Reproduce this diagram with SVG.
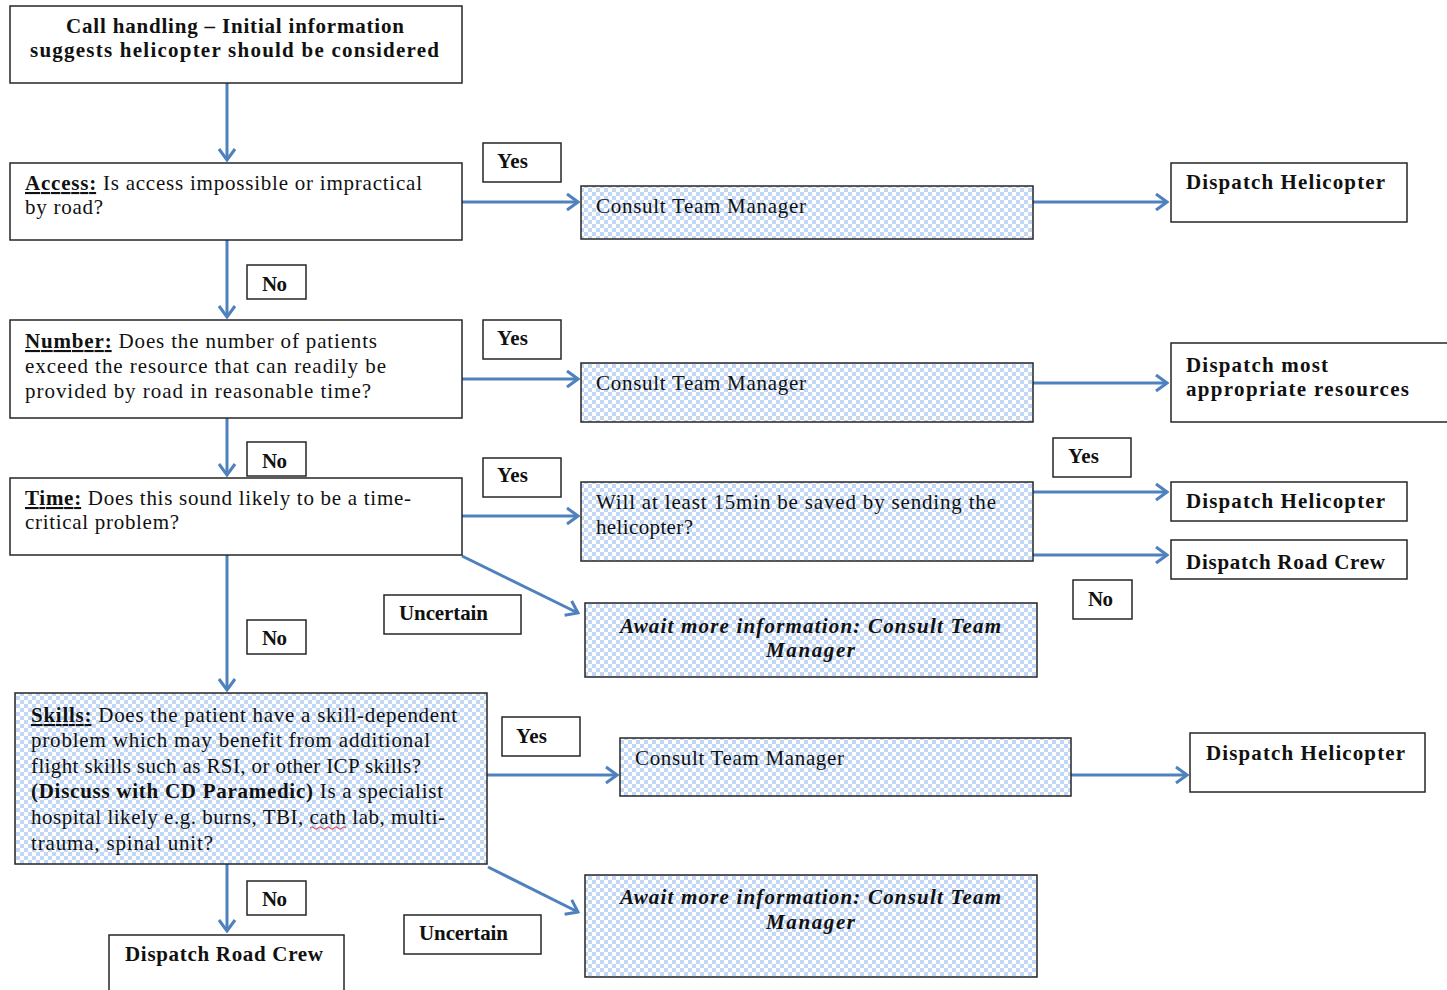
<svg xmlns="http://www.w3.org/2000/svg" width="1447" height="990" viewBox="0 0 1447 990">
  <defs>
    <pattern id="check" width="8" height="8" patternUnits="userSpaceOnUse">
      <rect width="8" height="8" fill="#ffffff"/>
      <rect width="4" height="4" fill="#c2d7f3"/>
      <rect x="4" y="4" width="4" height="4" fill="#c2d7f3"/>
    </pattern>
    <marker id="arrow" viewBox="-13 -10 15 20" markerWidth="15" markerHeight="20" refX="0" refY="0" orient="auto" markerUnits="userSpaceOnUse">
      <path d="M-11,-8 L0,0 L-11,8" fill="none" stroke="#4f81bd" stroke-width="3" stroke-linejoin="miter"/>
    </marker>
    <style>
      .box { fill: #ffffff; stroke: #262626; stroke-width: 1.5; }
      .chk { fill: url(#check); stroke: #262626; stroke-width: 1.5; }
      .t { font-family: "Liberation Serif", "Times New Roman", serif; font-size: 21px; fill: #111111; }
      .b { font-family: "Liberation Serif", "Times New Roman", serif; font-size: 21px; font-weight: bold; fill: #111111; }
      .bi { font-family: "Liberation Serif", "Times New Roman", serif; font-size: 21px; font-weight: bold; font-style: italic; fill: #111111; }
      .u { font-weight: bold; text-decoration: underline; }
      .c { text-anchor: middle; }
      .conn line { stroke: #4f81bd; stroke-width: 3; fill: none; marker-end: url(#arrow); }
    </style>
  </defs>

  <!-- connectors -->
  <g id="connectors" class="conn">
    <line x1="227" y1="83" x2="227" y2="160"/>
    <line x1="462" y1="202" x2="578" y2="202"/>
    <line x1="1033" y1="202" x2="1167" y2="202"/>
    <line x1="227" y1="240" x2="227" y2="317"/>
    <line x1="462" y1="379" x2="578" y2="379"/>
    <line x1="1033" y1="383" x2="1167" y2="383"/>
    <line x1="227" y1="418" x2="227" y2="475"/>
    <line x1="462" y1="516" x2="578" y2="516"/>
    <line x1="1033" y1="492" x2="1167" y2="492"/>
    <line x1="1033" y1="555" x2="1167" y2="555"/>
    <line x1="462" y1="556" x2="578" y2="613"/>
    <line x1="227" y1="555" x2="227" y2="690"/>
    <line x1="487" y1="775" x2="617" y2="775"/>
    <line x1="1071" y1="775" x2="1187" y2="775"/>
    <line x1="227" y1="864" x2="227" y2="931"/>
    <line x1="488" y1="867" x2="578" y2="912"/>
  </g>

  <!-- start -->
  <g id="call-handling">
    <rect class="box" x="10" y="6" width="452" height="77"/>
    <text class="b c" x="235" y="33" textLength="338">Call handling – Initial information</text>
    <text class="b c" x="234.5" y="57" textLength="409">suggests helicopter should be considered</text>
  </g>

  <!-- access question -->
  <g id="access">
    <rect class="box" x="10" y="163" width="452" height="77"/>
    <text class="t" x="25" y="190" textLength="397"><tspan class="u">Access:</tspan> Is access impossible  or impractical</text>
    <text class="t" x="25" y="214" textLength="78">by road?</text>
  </g>
  <g id="access-yes">
    <rect class="box" x="483" y="143" width="78" height="39"/>
    <text class="b" x="497" y="168" textLength="31">Yes</text>
  </g>
  <g id="access-consult">
    <rect class="chk" x="581" y="186" width="452" height="53"/>
    <text class="t" x="596" y="213" textLength="210">Consult  Team  Manager</text>
  </g>
  <g id="access-dispatch">
    <rect class="box" x="1171" y="163" width="236" height="59"/>
    <text class="b" x="1186" y="189" textLength="199">Dispatch Helicopter</text>
  </g>
  <g id="access-no">
    <rect class="box" x="247" y="265" width="59" height="34"/>
    <text class="b" x="262" y="291" textLength="25">No</text>
  </g>

  <!-- number question -->
  <g id="number">
    <rect class="box" x="10" y="320" width="452" height="98"/>
    <text class="t" x="25" y="348" textLength="352"><tspan class="u">Number:</tspan> Does the number  of patients</text>
    <text class="t" x="25" y="373" textLength="361">exceed  the resource  that can readily be</text>
    <text class="t" x="25" y="398" textLength="346">provided  by road in reasonable  time?</text>
  </g>
  <g id="number-yes">
    <rect class="box" x="483" y="320" width="78" height="39"/>
    <text class="b" x="497" y="345" textLength="31">Yes</text>
  </g>
  <g id="number-consult">
    <rect class="chk" x="581" y="363" width="452" height="59"/>
    <text class="t" x="596" y="390" textLength="210">Consult  Team  Manager</text>
  </g>
  <g id="number-dispatch">
    <rect class="box" x="1171" y="343" width="290" height="79"/>
    <text class="b" x="1186" y="372" textLength="142">Dispatch most</text>
    <text class="b" x="1186" y="396" textLength="223">appropriate resources</text>
  </g>
  <g id="number-no">
    <rect class="box" x="247" y="442" width="59" height="34"/>
    <text class="b" x="262" y="468" textLength="25">No</text>
  </g>

  <!-- time question -->
  <g id="time">
    <rect class="box" x="10" y="478" width="452" height="77"/>
    <text class="t" x="25" y="505" textLength="386"><tspan class="u">Time:</tspan> Does this sound likely to be a time-</text>
    <text class="t" x="25" y="529" textLength="154">critical problem?</text>
  </g>
  <g id="time-yes">
    <rect class="box" x="483" y="458" width="78" height="39"/>
    <text class="b" x="497" y="482" textLength="31">Yes</text>
  </g>
  <g id="time-saved">
    <rect class="chk" x="581" y="482" width="452" height="79"/>
    <text class="t" x="596" y="509" textLength="400">Will at least  15min be saved  by sending  the</text>
    <text class="t" x="596" y="534" textLength="97">helicopter?</text>
  </g>
  <g id="saved-yes">
    <rect class="box" x="1053" y="438" width="78" height="39"/>
    <text class="b" x="1068" y="463" textLength="31">Yes</text>
  </g>
  <g id="time-dispatch-heli">
    <rect class="box" x="1171" y="482" width="236" height="39"/>
    <text class="b" x="1186" y="508" textLength="199">Dispatch Helicopter</text>
  </g>
  <g id="time-dispatch-road">
    <rect class="box" x="1171" y="540" width="236" height="39"/>
    <text class="b" x="1186" y="569" textLength="199">Dispatch Road Crew</text>
  </g>
  <g id="saved-no">
    <rect class="box" x="1073" y="580" width="59" height="39"/>
    <text class="b" x="1088" y="606" textLength="25">No</text>
  </g>
  <g id="time-uncertain">
    <rect class="box" x="384" y="595" width="137" height="39"/>
    <text class="b" x="399" y="620" textLength="89">Uncertain</text>
  </g>
  <g id="time-await">
    <rect class="chk" x="585" y="603" width="452" height="74"/>
    <text class="bi c" x="810.5" y="633" textLength="381">Await more information: Consult Team</text>
    <text class="bi c" x="810.5" y="657" textLength="89">Manager</text>
  </g>
  <g id="time-no">
    <rect class="box" x="247" y="620" width="59" height="34"/>
    <text class="b" x="262" y="645" textLength="25">No</text>
  </g>

  <!-- skills question -->
  <g id="skills">
    <rect class="chk" x="15" y="693" width="472" height="171"/>
    <text class="t" x="31" y="722" textLength="426"><tspan class="u">Skills:</tspan> Does the patient  have a skill-dependent</text>
    <text class="t" x="31" y="747" textLength="399">problem  which may benefit  from additional</text>
    <text class="t" x="31" y="773" textLength="390">flight skills such as RSI, or other ICP skills?</text>
    <text class="t" x="31" y="798" textLength="412"><tspan font-weight="bold">(Discuss with CD Paramedic)</tspan>  Is a specialist</text>
    <text class="t" x="31" y="824" textLength="414">hospital  likely e.g. burns,  TBI, cath lab, multi-</text>
    <text class="t" x="31" y="850" textLength="182">trauma,  spinal  unit?</text>
    <path d="M310,828 q2,-2.5 4,0 t4,0 t4,0 t4,0 t4,0 t4,0 t4,0 t4,0 t4,0" fill="none" stroke="#e03030" stroke-width="1"/>
  </g>
  <g id="skills-yes">
    <rect class="box" x="502" y="717" width="78" height="39"/>
    <text class="b" x="516" y="743" textLength="31">Yes</text>
  </g>
  <g id="skills-consult">
    <rect class="chk" x="620" y="738" width="451" height="58"/>
    <text class="t" x="635" y="765" textLength="209">Consult  Team  Manager</text>
  </g>
  <g id="skills-dispatch">
    <rect class="box" x="1190" y="733" width="235" height="59"/>
    <text class="b" x="1206" y="760" textLength="199">Dispatch Helicopter</text>
  </g>
  <g id="skills-no">
    <rect class="box" x="247" y="881" width="59" height="34"/>
    <text class="b" x="262" y="906" textLength="25">No</text>
  </g>
  <g id="skills-road">
    <rect class="box" x="109" y="935" width="235" height="70"/>
    <text class="b" x="125" y="961" textLength="198">Dispatch Road Crew</text>
  </g>
  <g id="skills-uncertain">
    <rect class="box" x="404" y="915" width="137" height="39"/>
    <text class="b" x="419" y="940" textLength="89">Uncertain</text>
  </g>
  <g id="skills-await">
    <rect class="chk" x="585" y="875" width="452" height="102"/>
    <text class="bi c" x="810.5" y="904" textLength="381">Await more information: Consult Team</text>
    <text class="bi c" x="810.5" y="929" textLength="89">Manager</text>
  </g>
</svg>
